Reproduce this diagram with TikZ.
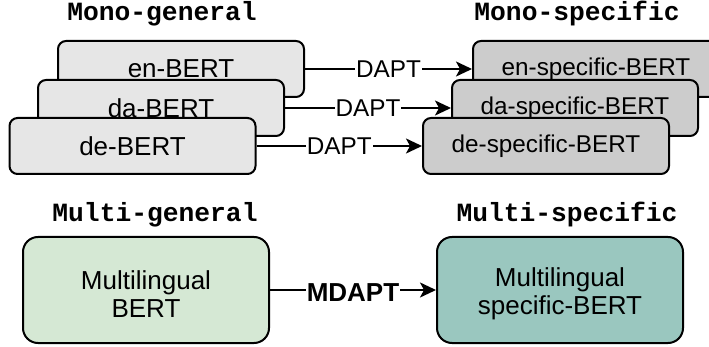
\documentclass[tikz,border=0pt]{standalone}
\usepackage{fontspec}
\setmainfont{Liberation Sans}
\newfontfamily\titlefont{Liberation Mono}
\usetikzlibrary{arrows.meta}
\definecolor{gengray}{HTML}{E6E6E6}
\definecolor{specgray}{HTML}{CCCCCC}
\definecolor{multigreen}{HTML}{D5E8D4}
\definecolor{multiteal}{HTML}{9AC7BF}
\tikzset{
  monobox/.style={draw=black, line width=2pt, rounded corners=8pt,
    minimum width=246pt, minimum height=56pt, inner sep=0pt,
    font=\fontsize{26}{30}\selectfont},
  specbox/.style={monobox, font=\fontsize{24.3}{28}\selectfont},
  multibox/.style={draw=black, line width=2pt, rounded corners=15pt,
    minimum width=246pt, minimum height=106pt, inner sep=0pt},
  multitext/.style={align=center, inner sep=0pt, font=\fontsize{26}{28.5}\selectfont},
  titletext/.style={font=\titlefont\bfseries\fontsize{26.3}{28}\selectfont, anchor=base},
  conn/.style={line width=2pt, -{Stealth[length=16pt,width=15pt,inset=4pt]}},
  lbl/.style={fill=white, inner sep=1pt, font=\fontsize{24.3}{28}\selectfont},
  mlbl/.style={fill=white, inner sep=1pt, font=\bfseries\fontsize{26}{28}\selectfont}
}
\begin{document}
\begin{tikzpicture}[x=1pt,y=-1pt]
\useasboundingbox (0,0) rectangle (709,347);
\clip (0,0) rectangle (709,347);
\fill[white] (0,0) rectangle (709,347);

% titles
\node[titletext] (tmg) at (162,21) {Mono-general};
\node[titletext] (tms) at (577,21) {Mono-specific};
\node[titletext] (tmug) at (155,222) {Multi-general};
\node[titletext] (tmus) at (567,222) {Multi-specific};

% mono general boxes
\node[monobox, fill=gengray] (en) at (181,69) {en-BERT};
\node[monobox, fill=gengray] (da) at (161,108) {da-BERT};
\node[monobox, fill=gengray] (de) at (132.5,146) {de-BERT};

% mono specific boxes
\node[specbox, fill=specgray] (ens) at (596,69) {en-specific-BERT};
\node[specbox, fill=specgray] (das) at (575,108) {da-specific-BERT};
\node[specbox, fill=specgray] (des) at (546,146) {de-specific-BERT};

% multi boxes
\node[multibox, fill=multigreen] (mb) at (146,290) {};
\node[multitext] (mbt) at ([yshift=-4pt]mb.center) {Multilingual\\BERT};
\node[multibox, fill=multiteal] (ms) at (560,290) {};
\node[multitext] (mst) at ([yshift=-4pt]ms.center) {Multilingual\\specific-BERT};

% connectors
\draw[conn] (en.east) -- node[lbl] {DAPT} (ens.west);
\draw[conn] (da.east) -- node[lbl] {DAPT} (das.west);
\draw[conn] (de.east) -- node[lbl] {DAPT} (des.west);
\draw[conn] (mb.east) -- node[mlbl, yshift=-3pt] {MDAPT} (ms.west);
\end{tikzpicture}
\end{document}
